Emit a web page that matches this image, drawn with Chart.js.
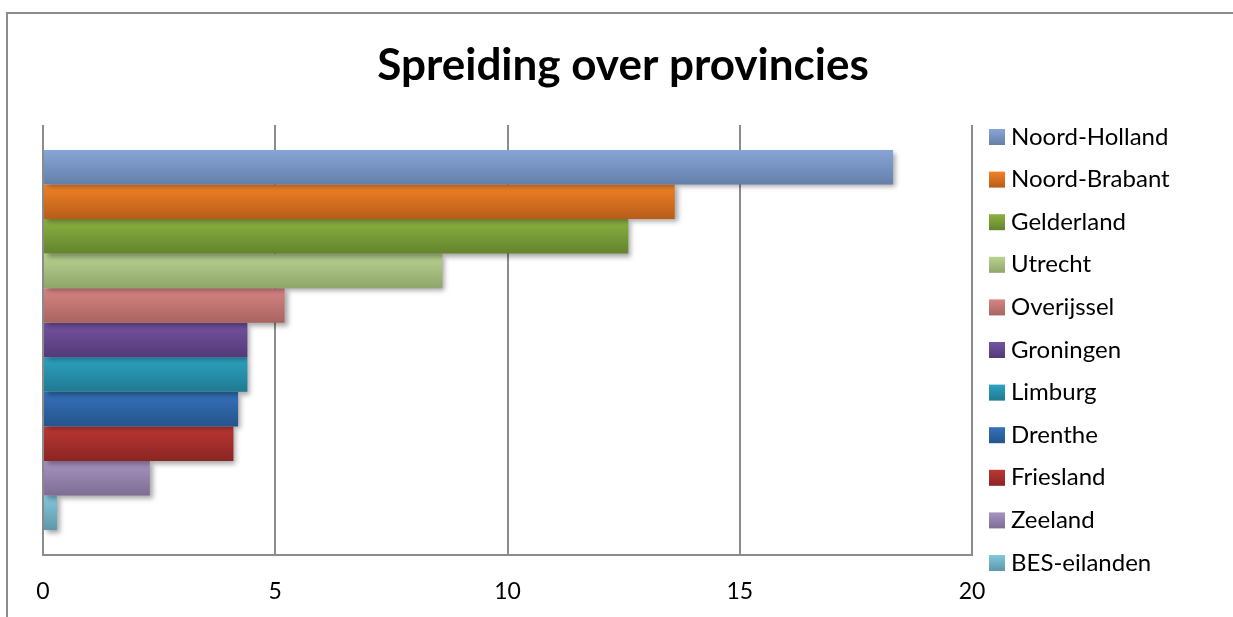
<!DOCTYPE html>
<html>
<head>
<meta charset="utf-8">
<title>Spreiding over provincies</title>
<script src="https://cdn.jsdelivr.net/npm/chart.js@4.4.1/dist/chart.umd.min.js"></script>
<style>
html,body{margin:0;padding:0;background:#fff;}
#wrap{width:1233px;height:617px;position:relative;}
</style>
</head>
<body>
<div id="wrap"><canvas id="chartProvincies"></canvas></div>
<script>
/* =========================
   DATA
========================= */

const provincies = ["Noord-Holland","Noord-Brabant","Gelderland","Utrecht","Overijssel","Groningen","Limburg","Drenthe","Friesland","Zeeland","BES-eilanden"];
const waarden = [18.3, 13.6, 12.6, 8.6, 5.2, 4.4, 4.4, 4.2, 4.1, 2.3, 0.3];
const xTicks = [0, 5, 10, 15, 20];

/* kleuren: boven en onder van het verloop */
const kleurBoven = ["#88a5d7","#f28226","#8cb241","#bad290","#d78583","#7553a2","#2ca3c1","#3572bb","#bc3733","#a794c3","#82c8df"];
const kleurOnder = ["#6480a9","#b75c19","#63842d","#8fa66b","#a86461","#523a77","#207991","#25548b","#8a2523","#7d6d92","#5f97a8"];

/* =========================
   PLUGINS
========================= */

/* verloop + schaduw op de balken */
const verloop = {
id: "verloop",
beforeDatasetsDraw(chart){
const ctx = chart.ctx;
chart.data.datasets.forEach((ds,i)=>{
chart.getDatasetMeta(i).data.forEach(el=>{
const top = el.y - el.height/2;
const g = ctx.createLinearGradient(0, top, 0, top + el.height);
g.addColorStop(0, kleurBoven[i]);
g.addColorStop(1, kleurOnder[i]);
el.options = Object.assign({}, el.options, {backgroundColor: g});
});
});
ctx.save();
ctx.shadowColor = "rgba(0,0,0,0.35)";
ctx.shadowBlur = 5;
ctx.shadowOffsetX = 3;
ctx.shadowOffsetY = 3;
},
afterDatasetsDraw(chart){
chart.ctx.restore();
}
};

/* kader, titel en legenda */
const kader = {
id: "kader",
beforeDraw(chart){
const ctx = chart.ctx;
ctx.save();
ctx.fillStyle = "#fff";
ctx.fillRect(0,0,chart.width,chart.height);
ctx.strokeStyle = "#8c8c8c";
ctx.lineWidth = 2;
ctx.beginPath();
ctx.moveTo(7, chart.height);
ctx.lineTo(7, 13);
ctx.lineTo(chart.width, 13);
ctx.stroke();
ctx.restore();
},
afterDraw(chart){
const ctx = chart.ctx;
const area = chart.chartArea;
ctx.save();
ctx.fillStyle = "#000";
ctx.font = "bold 44px Lato";
ctx.textAlign = "center";
ctx.textBaseline = "alphabetic";
ctx.fillText("Spreiding over provincies", 623, 80);

ctx.font = "24px Lato";
ctx.textAlign = "left";
provincies.forEach((naam,i)=>{
const y = 129 + i*42.6;
const x = area.right + 17;
const g = ctx.createLinearGradient(0, y, 0, y + 16);
g.addColorStop(0, kleurBoven[i]);
g.addColorStop(1, kleurOnder[i]);
ctx.fillStyle = g;
ctx.fillRect(x, y, 16, 16);
ctx.fillStyle = "#000";
ctx.fillText(naam, x + 22, y + 15.5);
});
ctx.restore();
}
};

/* =========================
   CHART
========================= */

new Chart(document.getElementById("chartProvincies"), {
type: "bar",
data: {
labels: [""],
datasets: provincies.map((naam,i)=>({
label: naam,
data: [waarden[i]],
backgroundColor: kleurBoven[i],
borderWidth: 0
}))
},
options: {
indexAxis: "y",
responsive: true,
maintainAspectRatio: false,
animation: false,
devicePixelRatio: 1,
categoryPercentage: 0.884,
barPercentage: 1,
layout: { padding: { top: 125, left: 43, right: 261, bottom: 0 } },
plugins: {
legend: { display: false },
title: { display: false },
tooltip: { enabled: false }
},
scales: {
x: {
min: xTicks[0],
max: xTicks[xTicks.length-1],
ticks: {
stepSize: xTicks[1] - xTicks[0],
color: "#000",
padding: 23,
font: { family: "Lato", size: 23 }
},
grid: { color: "#8c8c8c", lineWidth: 2, tickLength: 0 },
border: { color: "#8c8c8c", width: 2 },
afterFit(scale){ scale.height = 62; }
},
y: { display: false }
}
},
plugins: [verloop, kader]
});
</script>
</body>
</html>
